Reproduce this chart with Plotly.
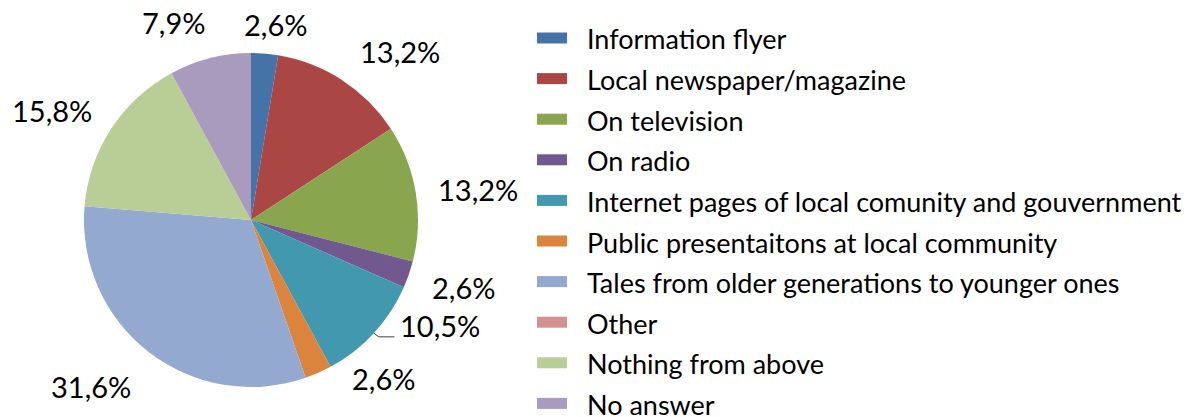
import math
import plotly.graph_objects as go

# ── data ───────────────────────────────────────
categories = [
    "Information flyer",
    "Local newspaper/magazine",
    "On television",
    "On radio",
    "Internet pages of local comunity and gouvernment",
    "Public presentaitons at local community",
    "Tales from older generations to younger ones",
    "Other",
    "Nothing from above",
    "No answer",
]
shares = [2.6, 13.2, 13.2, 2.6, 10.5, 2.6, 31.6, 0.0, 15.8, 7.9]

colors = ["#4572A7", "#AA4643", "#89A54E", "#71588F", "#4198AF",
          "#DB843D", "#93A9CF", "#D19392", "#B9CD96", "#A99BBD"]

# ── geometry (pixels in the browser window) ────
# the page body has an 8px margin, so the figure is shifted by OFF
OFF = 8
W, H = 1200 - OFF, 417 - OFF
CX, CY, R = 251, 220, 167
FONT = "Lato"
LABEL_SIZE = 29
LEGEND_SIZE = 27

# label nudges in px (dx, dy) to mimic the hand-placed Excel labels
nudges = [(9, -2), (33, 9), (7, 6), (9, -3), (29, -42),
          (50, -28), (-29, -3), (0, 0), (-14, 11), (-28, -4)]

def px(x):
    return (x - OFF) / W

def py(y):
    return 1 - (y - OFF) / H

def fmt(v):
    return f"{v:.1f}%".replace(".", ",")

fig = go.Figure()
fig.add_trace(go.Pie(
    labels=categories, values=shares, sort=False,
    direction="clockwise", rotation=0,
    marker=dict(colors=colors, line=dict(width=0)),
    textinfo="none", showlegend=False, hoverinfo="label+percent",
    domain=dict(x=[px(CX - R), px(CX + R)], y=[py(CY + R), py(CY - R)]),
))

annotations = []
shapes = []
total = sum(shares)
cum = 0
for i, v in enumerate(shares):
    mid = (cum + v / 2) / total * 2 * math.pi
    cum += v
    if v == 0:
        continue
    dx, dy = math.sin(mid), -math.cos(mid)
    txt = fmt(v)
    hw = 8 * len(txt)
    d = 15 + abs(dx) * hw + abs(dy) * 10
    lx = CX + (R + d) * dx + nudges[i][0]
    ly = CY + (R + d) * dy + nudges[i][1]
    annotations.append(dict(
        x=px(lx), y=py(ly), xref="paper", yref="paper",
        text=txt, showarrow=False, xanchor="center", yanchor="middle",
        font=dict(family=FONT, size=LABEL_SIZE, color="#000000")))
    # leader line for the label that was dragged away from its slice
    if abs(nudges[i][1]) > 30:
        ex, ey = CX + R * dx, CY + R * dy
        left = lx - hw - 6
        shapes.append(dict(
            type="path", xref="paper", yref="paper",
            path=f"M{px(ex)},{py(ey)} L{px(ex + 5)},{py(ly + 11)} L{px(left)},{py(ly + 11)}",
            line=dict(color="#404040", width=1)))

# legend drawn as swatch + text rows
for i, (name, col) in enumerate(zip(categories, colors)):
    yc = 38 + 40.6 * i
    shapes.append(dict(type="rect", xref="paper", yref="paper",
                       x0=px(537), x1=px(567), y0=py(yc + 5.5), y1=py(yc - 5.5),
                       fillcolor=col, line=dict(width=0)))
    annotations.append(dict(
        x=px(585), y=py(yc + 1), xref="paper", yref="paper",
        text=name, showarrow=False, xanchor="left", yanchor="middle",
        font=dict(family=FONT, size=LEGEND_SIZE, color="#000000")))

fig.update_layout(
    width=W, height=H,
    margin=dict(l=0, r=0, t=0, b=0),
    paper_bgcolor="white", plot_bgcolor="white",
    annotations=annotations, shapes=shapes,
    showlegend=False,
)

fig.write_html("out.html")
